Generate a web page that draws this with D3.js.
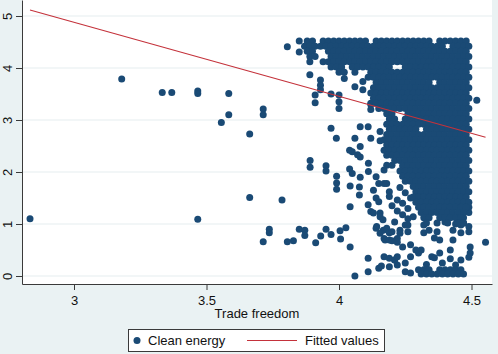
<!DOCTYPE html>
<html>
<head>
<meta charset="utf-8">
<script src="https://cdn.jsdelivr.net/npm/d3@7"></script>
<style>
  body { margin: 0; background: #eaf2f3; }
  svg { display: block; font-family: "Liberation Sans", Arial, sans-serif; }
</style>
</head>
<body>
<script>
// ---- data ----
var xTicks = [3, 3.5, 4, 4.5];
var xTickLabels = ["3", "3.5", "4", "4.5"];
var yTicks = [0, 1, 2, 3, 4, 5];
var yTickLabels = ["0", "1", "2", "3", "4", "5"];
var xTitle = "Trade freedom";
var legendLabels = ["Clean energy", "Fitted values"];

// fitted values (OLS line end points)
var fitX = [2.834, 4.553];
var fitY = [5.115, 2.667];

// the dense block, row by row: one clean energy level, then its trade freedom values
var denseY = [4.52, 4.42, 4.32, 4.22, 4.12, 4.02, 3.92, 3.82, 3.72, 3.62, 3.52, 3.42,
  3.32, 3.22, 3.12, 3.02, 2.92, 2.82, 2.72, 2.62, 2.52, 2.42, 2.32, 2.22, 2.12, 2.02,
  1.92, 1.82, 1.72, 1.62, 1.52, 1.42, 1.32, 1.22, 1.12, 1.02, 0.12, 0.04];
var denseX = [
  [3.88,3.90,3.94,3.96,3.98,4.00,4.02,4.04,4.06,4.08,4.10,4.14,4.16,4.18,4.20,4.22,4.24,4.26,4.28,4.30,4.32,4.34,4.38,4.40,4.42,4.44,4.46,4.48],
  [3.87,3.89,3.91,3.93,3.95,3.97,3.99,4.01,4.03,4.05,4.07,4.09,4.11,4.13,4.15,4.17,4.19,4.21,4.23,4.25,4.27,4.29,4.31,4.33,4.35,4.37,4.39,4.43,4.45,4.47,4.49],
  [3.88,3.90,3.96,3.98,4.00,4.02,4.04,4.06,4.08,4.10,4.12,4.14,4.16,4.18,4.20,4.22,4.24,4.26,4.28,4.30,4.32,4.34,4.36,4.38,4.40,4.42,4.44,4.46,4.48],
  [3.89,3.91,3.97,3.99,4.01,4.03,4.05,4.07,4.09,4.11,4.13,4.15,4.17,4.19,4.21,4.23,4.25,4.27,4.29,4.31,4.33,4.35,4.37,4.39,4.41,4.43,4.45,4.47,4.49],
  [3.94,3.96,3.98,4.00,4.02,4.04,4.06,4.08,4.10,4.12,4.14,4.16,4.18,4.20,4.22,4.24,4.26,4.28,4.30,4.32,4.34,4.36,4.38,4.40,4.42,4.44,4.46,4.48],
  [3.97,3.99,4.01,4.05,4.07,4.09,4.11,4.13,4.15,4.17,4.19,4.25,4.27,4.29,4.31,4.33,4.35,4.37,4.39,4.41,4.43,4.45,4.47,4.49],
  [4.00,4.02,4.06,4.12,4.14,4.16,4.18,4.20,4.22,4.24,4.26,4.28,4.30,4.32,4.34,4.36,4.38,4.40,4.42,4.44,4.46,4.48],
  [4.11,4.13,4.15,4.17,4.19,4.21,4.23,4.25,4.27,4.29,4.31,4.33,4.35,4.37,4.39,4.41,4.43,4.45,4.47,4.49],
  [4.14,4.16,4.18,4.20,4.22,4.24,4.26,4.28,4.30,4.32,4.34,4.38,4.40,4.42,4.44,4.46,4.48],
  [4.13,4.15,4.17,4.19,4.21,4.23,4.25,4.27,4.29,4.31,4.33,4.35,4.37,4.39,4.41,4.43,4.45,4.47,4.49],
  [4.12,4.14,4.16,4.18,4.20,4.22,4.24,4.26,4.28,4.30,4.32,4.34,4.36,4.38,4.40,4.42,4.44,4.46,4.48],
  [4.13,4.15,4.17,4.19,4.21,4.23,4.25,4.27,4.29,4.31,4.33,4.35,4.37,4.39,4.41,4.43,4.45,4.47,4.49],
  [4.12,4.14,4.16,4.18,4.20,4.22,4.24,4.26,4.28,4.30,4.32,4.34,4.36,4.38,4.40,4.42,4.44,4.46,4.48],
  [4.15,4.17,4.19,4.21,4.23,4.25,4.27,4.29,4.31,4.33,4.35,4.37,4.39,4.41,4.43,4.45,4.47,4.49],
  [4.18,4.20,4.26,4.28,4.30,4.32,4.34,4.36,4.38,4.40,4.42,4.44,4.46,4.48],
  [4.19,4.21,4.25,4.27,4.29,4.31,4.33,4.35,4.37,4.39,4.41,4.43,4.45,4.47,4.49],
  [4.18,4.20,4.22,4.24,4.26,4.28,4.30,4.32,4.34,4.36,4.38,4.40,4.42,4.44,4.46,4.48],
  [4.19,4.21,4.23,4.25,4.27,4.29,4.33,4.35,4.37,4.39,4.41,4.43,4.45,4.47,4.49],
  [4.18,4.20,4.22,4.24,4.26,4.28,4.30,4.32,4.34,4.36,4.38,4.40,4.42,4.44,4.46,4.48],
  [4.17,4.19,4.21,4.23,4.25,4.27,4.29,4.31,4.33,4.35,4.37,4.39,4.41,4.43,4.45,4.47,4.49],
  [4.18,4.20,4.22,4.24,4.26,4.28,4.30,4.32,4.34,4.36,4.38,4.40,4.42,4.44,4.46,4.48],
  [4.17,4.19,4.21,4.23,4.25,4.27,4.29,4.31,4.33,4.35,4.37,4.39,4.41,4.43,4.45,4.47,4.49],
  [4.18,4.20,4.22,4.24,4.26,4.28,4.30,4.32,4.34,4.36,4.38,4.40,4.42,4.44,4.46,4.48],
  [4.21,4.23,4.25,4.27,4.29,4.31,4.33,4.35,4.37,4.39,4.41,4.43,4.45,4.47,4.49],
  [4.24,4.26,4.28,4.30,4.32,4.34,4.36,4.38,4.40,4.42,4.44,4.46,4.48],
  [4.23,4.25,4.27,4.29,4.31,4.33,4.35,4.37,4.39,4.41,4.43,4.45,4.47,4.49],
  [4.24,4.26,4.28,4.30,4.32,4.34,4.36,4.38,4.40,4.42,4.44,4.46,4.48],
  [4.25,4.27,4.29,4.31,4.33,4.35,4.37,4.39,4.41,4.43,4.45,4.47,4.49],
  [4.28,4.30,4.32,4.34,4.36,4.38,4.40,4.42,4.44,4.46,4.48],
  [4.29,4.31,4.33,4.35,4.37,4.39,4.41,4.43,4.45,4.47,4.49],
  [4.28,4.30,4.32,4.34,4.36,4.38,4.40,4.42,4.44,4.46,4.48],
  [4.29,4.31,4.33,4.35,4.37,4.39,4.41,4.43,4.45,4.47,4.49],
  [4.30,4.32,4.34,4.36,4.38,4.40,4.42,4.44,4.46,4.48],
  [4.31,4.33,4.35,4.37,4.39,4.41,4.43,4.45,4.47],
  [4.32,4.34,4.38,4.40,4.42,4.44,4.46],
  [4.33,4.37,4.41,4.45,4.47],
  [4.30,4.32,4.34,4.38,4.40,4.42,4.44,4.46],
  [4.31,4.33,4.35,4.37,4.39,4.41,4.43,4.45,4.47]
];

// the scattered observations: [trade freedom, clean energy]
var loosePoints = [
  [2.834,1.10],[3.18,3.79],[3.333,3.53],[3.369,3.53],[3.467,3.56],[3.467,3.51],[3.467,1.09],
  [3.556,2.95],[3.584,3.51],[3.584,3.10],[3.663,2.73],[3.663,1.51],[3.714,3.21],[3.714,3.10],
  [3.714,0.66],[3.737,0.90],[3.737,0.83],[3.785,1.46],
  [3.805,0.66],[3.828,0.68],[3.850,0.90],[3.871,0.88],[3.871,0.78],[3.912,0.64],[3.931,0.77],
  [3.951,0.90],[3.970,0.80],[4.004,0.87],[4.006,0.71],[4.026,0.93],[4.042,0.56],[4.042,1.33],
  [3.891,2.22],[3.891,2.09],[3.951,2.12],[3.951,2.02],[3.991,1.92],[3.991,1.79],[3.991,1.67],
  [4.042,1.73],[4.077,1.71],[4.077,1.56],[4.111,2.17],[4.111,2.01],
  [4.04,2.42],[4.08,2.29],[4.04,2.06],[4.05,1.97],[4.08,1.90],[4.14,1.91],[4.17,1.78],[4.17,2.04],
  [4.13,1.65],[4.14,1.50],[4.12,1.24],[4.13,1.21],[4.155,1.21],[4.155,1.14],[4.11,1.37],[4.15,1.43],
  [4.19,1.62],[4.19,1.53],[4.22,1.46],[4.28,1.14],[4.18,2.13],[4.20,2.13],[4.18,1.78],[4.15,1.78],
  [4.24,1.40],[4.26,1.30],[4.24,1.18],[4.26,1.10],[4.22,1.25],[4.20,1.35],[4.27,1.50],[4.25,1.60],
  [4.23,1.70],[4.47,1.12],[4.49,1.22],[4.49,1.32],[4.47,1.02],[4.45,1.08],[4.49,0.95],[4.44,1.00],
  [3.805,4.41],[3.85,4.52],[3.85,4.31],[3.89,4.12],[3.89,3.87],[3.93,3.77],[3.93,3.67],[3.93,3.58],
  [3.91,3.48],[3.91,3.33],[3.97,3.50],[4.00,3.48],[4.00,3.35],[4.00,3.22],[4.02,3.80],[4.06,3.64],
  [4.09,3.74],[4.09,3.58],[4.12,3.30],[4.12,3.20],[3.97,2.84],[3.99,2.65],[4.08,2.87],[4.11,2.87],
  [4.155,2.78],[4.06,2.65],[4.12,2.65],[4.155,2.60],[4.08,2.49],[4.05,2.39],[4.07,2.33],[4.52,3.38],
  [4.142,0.95],[4.167,0.88],[4.174,0.69],[4.166,1.08],[4.18,0.92],[4.19,0.83],[4.21,1.04],[4.23,0.88],
  [4.25,0.98],[4.26,0.85],[4.32,0.83],[4.34,0.88],[4.36,0.73],[4.38,0.69],[4.41,1.17],[4.43,0.88],
  [4.46,0.83],[4.495,0.56],[4.495,0.44],[4.553,0.65],
  [4.17,0.37],[4.21,0.31],[4.25,0.25],[4.27,0.37],[4.30,0.44],[4.31,0.50],[4.35,0.37],[4.38,0.44],
  [4.42,0.50],[4.46,0.31],[4.14,0.92],[4.155,0.82],[4.17,0.72],[4.19,0.69],[4.20,0.85],[4.22,0.72],
  [4.23,0.82],[4.26,0.98],[4.20,0.68],[4.22,0.65],[4.32,0.98],[4.37,0.85],[4.40,1.04],[4.43,0.69],
  [4.46,0.98],[4.49,0.85],[4.24,0.56],[4.27,0.60],[4.29,0.50],
  [4.06,0.00],[4.11,0.08],[4.11,0.34],[4.15,0.15],[4.16,0.19],[4.19,0.18],[4.22,0.21],[4.19,0.34],
  [4.21,0.31],[4.22,0.37],[4.25,0.08],[4.27,0.06],[4.36,0.35],[4.42,0.33],[4.49,0.36],[4.33,0.22],
  [4.39,0.25],[4.44,0.21]
];

// ---- layout ----
var width = 498, height = 354;
var plot = {left: 22, right: 492, top: 0, bottom: 284};
var navy = "#1a4a75", red = "#c4323b", axisCol = "#3a3a3a";

var points = loosePoints.slice();
denseY.forEach(function(yv, i) {
  denseX[i].forEach(function(xv) { points.push([xv, yv]); });
});

var x = d3.scaleLinear()
    .domain([3 - 52 / 265, 4.5 + 20.5 / 265])
    .range([plot.left, plot.right]);

var y = d3.scaleLinear()
    .domain([-8 / 52, 5 + 16 / 52])
    .range([plot.bottom, plot.top]);

var svg = d3.select("body").append("svg")
    .attr("width", width)
    .attr("height", height);

svg.append("rect")
    .attr("width", width).attr("height", height)
    .attr("fill", "#eaf2f3");

svg.append("rect")
    .attr("x", plot.left).attr("y", plot.top)
    .attr("width", plot.right - plot.left)
    .attr("height", plot.bottom - plot.top)
    .attr("fill", "#ffffff");

// horizontal grid
svg.append("g")
  .selectAll("line")
  .data(yTicks)
  .enter().append("line")
    .attr("x1", plot.left).attr("x2", plot.right)
    .attr("y1", function(d) { return y(d); })
    .attr("y2", function(d) { return y(d); })
    .attr("stroke", "#e6eef0")
    .attr("stroke-width", 1.2);

// scatter
svg.append("g")
  .selectAll("circle")
  .data(points)
  .enter().append("circle")
    .attr("cx", function(d) { return x(d[0]); })
    .attr("cy", function(d) { return y(d[1]); })
    .attr("r", 3.5)
    .attr("fill", navy);

// fitted line
svg.append("path")
    .datum(d3.zip(fitX, fitY))
    .attr("fill", "none")
    .attr("stroke", red)
    .attr("stroke-width", 1.1)
    .attr("d", d3.line()
      .x(function(d) { return x(d[0]); })
      .y(function(d) { return y(d[1]); }));

// x axis
var gx = svg.append("g")
    .attr("transform", "translate(0," + plot.bottom + ")")
    .call(d3.axisBottom(x)
      .tickValues(xTicks)
      .tickSize(6)
      .tickSizeOuter(0)
      .tickFormat(function(d, i) { return xTickLabels[i]; }));
gx.select(".domain").attr("stroke", axisCol);
gx.selectAll(".tick line").attr("stroke", axisCol);
gx.selectAll("text")
    .attr("y", 12)
    .attr("font-size", 13)
    .attr("font-family", "Liberation Sans, Arial, sans-serif")
    .attr("fill", "#111");

// y axis
var gy = svg.append("g")
    .attr("transform", "translate(" + plot.left + ",0)")
    .call(d3.axisLeft(y)
      .tickValues(yTicks)
      .tickSize(6)
      .tickSizeOuter(0)
      .tickFormat(function(d, i) { return yTickLabels[i]; }));
gy.select(".domain").attr("stroke", axisCol);
gy.selectAll(".tick line").attr("stroke", axisCol);
gy.selectAll("text")
    .attr("x", 0)
    .attr("y", -10)
    .attr("dy", 0)
    .attr("text-anchor", "middle")
    .attr("transform", "rotate(-90)")
    .attr("font-size", 13)
    .attr("font-family", "Liberation Sans, Arial, sans-serif")
    .attr("fill", "#111");

// axis title
svg.append("text")
    .attr("x", (plot.left + plot.right) / 2)
    .attr("y", 318)
    .attr("text-anchor", "middle")
    .attr("font-size", 13)
    .attr("fill", "#111")
    .text(xTitle);

// legend
var lg = svg.append("g");
lg.append("rect")
    .attr("x", 128.5).attr("y", 329.5)
    .attr("width", 256).attr("height", 22)
    .attr("fill", "#fff")
    .attr("stroke", axisCol);
lg.append("circle")
    .attr("cx", 137).attr("cy", 340.5).attr("r", 3.5)
    .attr("fill", navy);
lg.append("text")
    .attr("x", 148).attr("y", 345)
    .attr("font-size", 13).attr("fill", "#111")
    .text(legendLabels[0]);
lg.append("line")
    .attr("x1", 247).attr("x2", 297)
    .attr("y1", 340.5).attr("y2", 340.5)
    .attr("stroke", red).attr("stroke-width", 1.1);
lg.append("text")
    .attr("x", 305).attr("y", 345)
    .attr("font-size", 13).attr("fill", "#111")
    .text(legendLabels[1]);
</script>
</body>
</html>
